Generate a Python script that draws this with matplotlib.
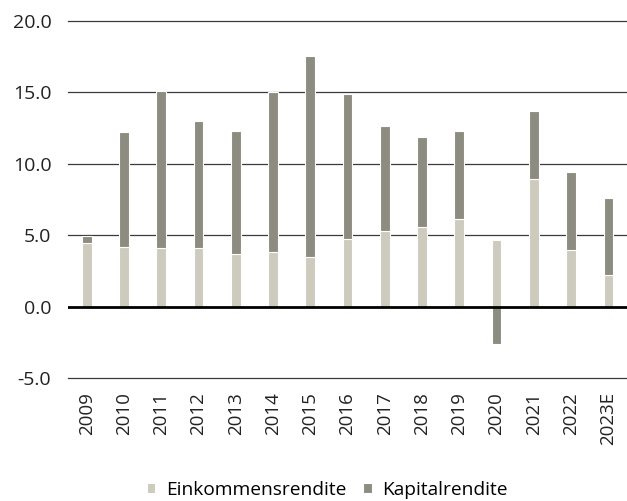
import numpy as np
import matplotlib.pyplot as plt

plt.rcParams['font.family'] = ['Open Sans', 'DejaVu Sans']

years = ["2009", "2010", "2011", "2012", "2013", "2014", "2015", "2016",
         "2017", "2018", "2019", "2020", "2021", "2022", "2023E"]
einkommen = [4.45, 4.15, 4.1, 4.1, 3.65, 3.85, 3.5, 4.7,
             5.3, 5.6, 6.15, 4.65, 8.9, 3.95, 2.2]
kapital = [0.5, 8.05, 10.95, 8.9, 8.65, 11.15, 14.0, 10.15,
           7.35, 6.25, 6.1, -2.65, 4.75, 5.45, 5.4]

col_income = "#cdcbbd"
col_capital = "#8c8c80"

fig = plt.figure(figsize=(6.27, 5.01), dpi=100)
ax = fig.add_axes([0.1085, 0.2455, 0.8915, 0.7132])

x = np.arange(len(years))
inc = np.array(einkommen)
cap = np.array(kapital)
bottom_cap = np.where(cap >= 0, inc, 0)

w = 0.26
ax.bar(x, inc, width=w, color=col_income, edgecolor="white", linewidth=0.8,
       zorder=3, label="Einkommensrendite")
ax.bar(x, cap, bottom=bottom_cap, width=w, color=col_capital,
       edgecolor="white", linewidth=0.8, zorder=3, label="Kapitalrendite")

ax.set_xlim(-0.5, len(years) - 0.5)
ax.set_ylim(-5, 20)
ax.set_yticks([-5, 0, 5, 10, 15, 20])
ax.set_yticklabels([f"{v:.1f}" for v in [-5, 0, 5, 10, 15, 20]])
for v in [-5, 5, 10, 15, 20]:
    ax.axhline(v, color="#3a3a3a", lw=0.9, zorder=1, clip_on=False)
ax.axhline(0, color="black", lw=2.0, zorder=4)

ax.set_xticks(x)
ax.set_xticklabels(years, rotation=90, va="top")
ax.tick_params(axis="both", length=0, colors="#222222")
ax.tick_params(axis="y", pad=12, labelsize=14)
ax.tick_params(axis="x", pad=10, labelsize=13.5)
for s in ax.spines.values():
    s.set_visible(False)

fig.legend(loc="center", bbox_to_anchor=(0.522, 0.022), ncol=2,
           frameon=False, fontsize=13.8, handlelength=0.45, handleheight=0.45,
           handletextpad=0.55, columnspacing=0.9, borderpad=0)

fig.savefig("out.png", dpi=100)
